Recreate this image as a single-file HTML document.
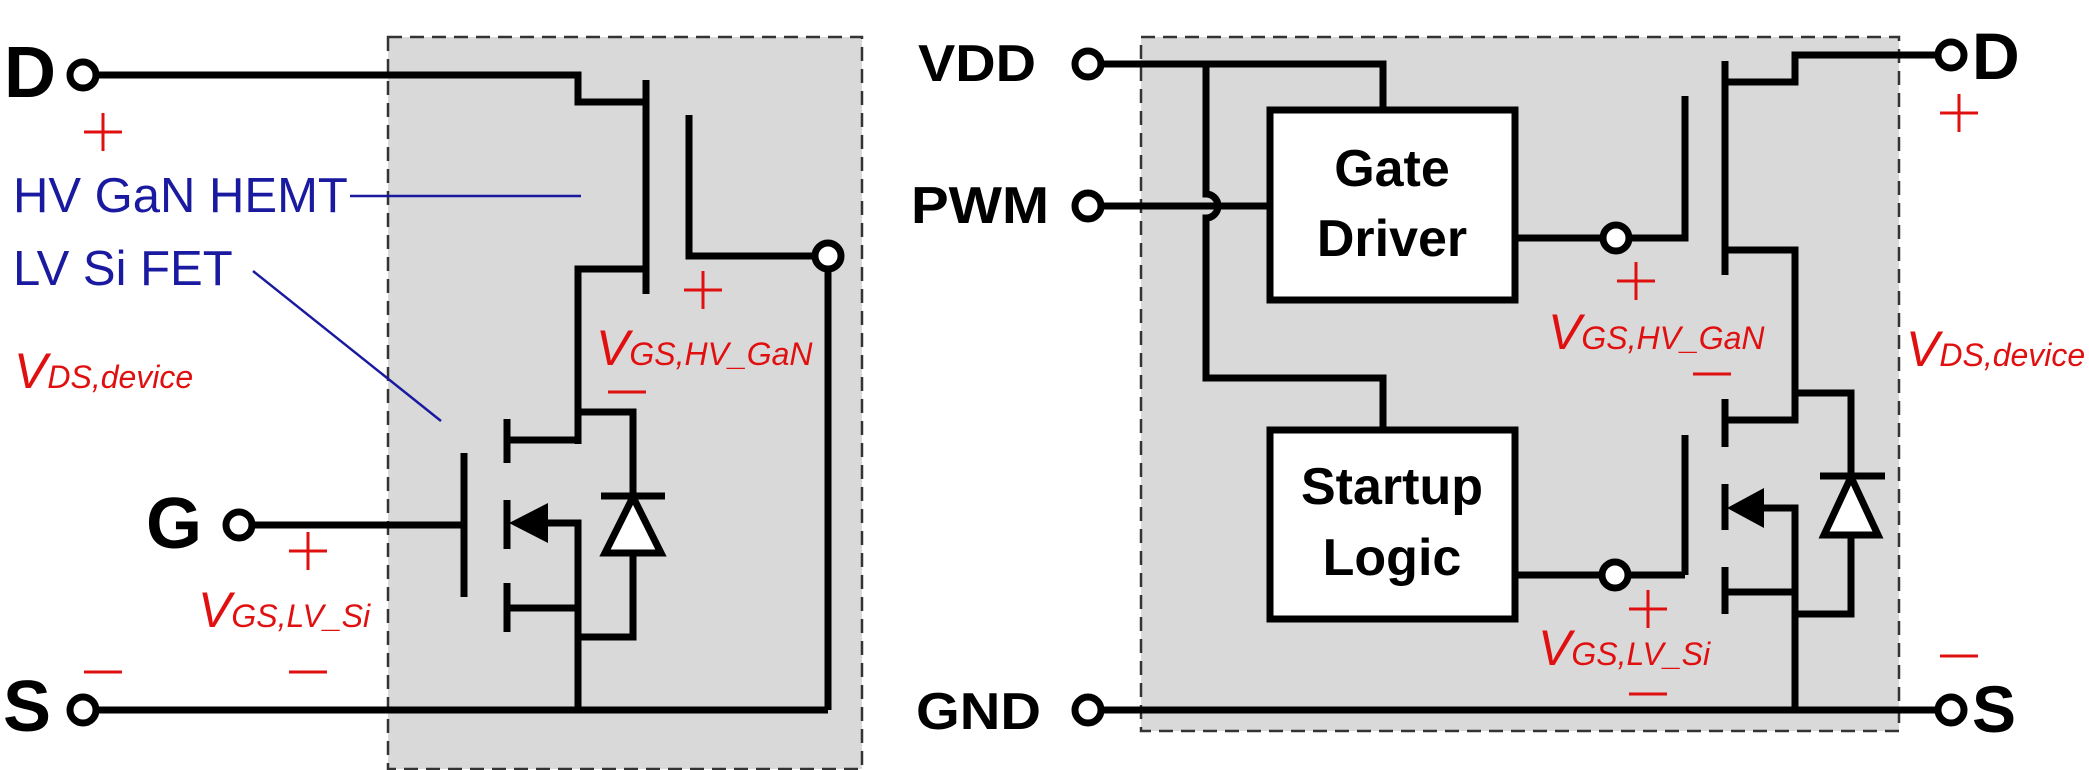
<!DOCTYPE html>
<html><head><meta charset="utf-8"><style>
html,body{margin:0;padding:0;background:#fff}
svg{display:block}
.b{fill:#000;font-family:"Liberation Sans",Arial,sans-serif;font-weight:bold}
.bl{fill:#1a1aa0;font-family:"Liberation Sans",Arial,sans-serif;font-size:49px}
.r{fill:#e01010;font-family:"Liberation Sans",Arial,sans-serif;font-style:italic}
</style></head><body>
<svg width="2089" height="770" viewBox="0 0 2089 770" xmlns="http://www.w3.org/2000/svg">
<rect x="388" y="37" width="474" height="732" fill="#d9d9d9" stroke="#333" stroke-width="2.5" stroke-dasharray="14,8"/>
<rect x="1141" y="37" width="758" height="694" fill="#d9d9d9" stroke="#333" stroke-width="2.5" stroke-dasharray="14,8"/>

<g fill="none" stroke="#000" stroke-width="7" stroke-linejoin="miter">
<polyline points="95,75 578,75 578,102 646,102"/>
<line x1="646" y1="80" x2="646" y2="294"/>
<polyline points="689,115 689,256 816,256"/>
<line x1="828" y1="268" x2="828" y2="710"/>
<polyline points="646,269 578,269 578,444"/>
<line x1="95" y1="710" x2="828" y2="710"/>
<line x1="507" y1="419" x2="507" y2="463"/>
<line x1="507" y1="500" x2="507" y2="549"/>
<line x1="507" y1="583" x2="507" y2="632"/>
<line x1="464" y1="453" x2="464" y2="597"/>
<line x1="507" y1="440" x2="578" y2="440"/>
<line x1="507" y1="608" x2="578" y2="608"/>
<polyline points="540,523 578,523 578,710"/>
<polyline points="578,412 633,412 633,496"/>
<polyline points="633,553 633,637 578,637"/>
<line x1="601" y1="496" x2="665" y2="496"/>
<line x1="251" y1="525" x2="464" y2="525"/>
<polyline points="1100,64 1383,64 1383,110"/>
<path d="M1206,64 L1206,194 A12,12 0 0 1 1206,218 L1206,378 L1383,378 L1383,430"/>
<line x1="1100" y1="206" x2="1270" y2="206"/>
<polyline points="1515,238 1604,238"/>
<polyline points="1628,238 1685,238 1685,96"/>
<line x1="1725" y1="61" x2="1725" y2="275"/>
<polyline points="1725,82 1795,82 1795,55 1939,55"/>
<polyline points="1725,250 1795,250 1795,420 1725,420"/>
<polyline points="1795,393 1851,393 1851,476"/>
<polyline points="1851,535 1851,614 1795,614"/>
<line x1="1820" y1="476" x2="1885" y2="476"/>
<line x1="1725" y1="399" x2="1725" y2="447"/>
<line x1="1725" y1="484" x2="1725" y2="530"/>
<line x1="1725" y1="567" x2="1725" y2="614"/>
<line x1="1685" y1="435" x2="1685" y2="575"/>
<line x1="1515" y1="575" x2="1603" y2="575"/>
<line x1="1627" y1="575" x2="1685" y2="575"/>
<polyline points="1758,508 1795,508 1795,710"/>
<line x1="1725" y1="592" x2="1795" y2="592"/>
<line x1="1100" y1="710" x2="1939" y2="710"/>
<rect x="1270" y="110" width="245" height="190" fill="#fff"/>
<rect x="1270" y="430" width="245" height="189" fill="#fff"/>
</g>
<polygon points="509,523 548,503 548,543" fill="#000"/>
<polygon points="1727,508 1764,488 1764,528" fill="#000"/>
<polygon points="633,497 605,553 661,553" fill="#fff" stroke="#000" stroke-width="7"/>
<polygon points="1851,477 1824,535 1878,535" fill="#fff" stroke="#000" stroke-width="7"/>
<g fill="#fff" stroke="#000" stroke-width="7">
<circle cx="83" cy="75" r="13"/><circle cx="828" cy="256" r="13"/>
<circle cx="239" cy="525" r="13"/><circle cx="83" cy="710" r="13"/>
<circle cx="1088" cy="64" r="13"/><circle cx="1088" cy="206" r="13"/><circle cx="1088" cy="710" r="13"/>
<circle cx="1616" cy="238" r="13"/><circle cx="1615" cy="575" r="13"/>
<circle cx="1951" cy="55" r="13"/><circle cx="1951" cy="710" r="13"/>
</g>
<line x1="350" y1="196" x2="581" y2="196" stroke="#1a1aa0" stroke-width="2.5"/>
<line x1="253" y1="271" x2="441" y2="421" stroke="#1a1aa0" stroke-width="2.5"/>
<text class="b" x="4" y="97" font-size="72">D</text>
<text class="b" x="146" y="548" font-size="72">G</text>
<text class="b" x="3" y="731" font-size="72">S</text>
<text class="b" x="918" y="81" font-size="52" textLength="118" lengthAdjust="spacingAndGlyphs">VDD</text>
<text class="b" x="911" y="223" font-size="52" textLength="138" lengthAdjust="spacingAndGlyphs">PWM</text>
<text class="b" x="916" y="729" font-size="52" textLength="125" lengthAdjust="spacingAndGlyphs">GND</text>
<text class="b" x="1972" y="79" font-size="66">D</text>
<text class="b" x="1972" y="732" font-size="66">S</text>
<text class="b" x="1392" y="186" font-size="52" text-anchor="middle">Gate</text>
<text class="b" x="1392" y="256" font-size="52" text-anchor="middle">Driver</text>
<text class="b" x="1392" y="504" font-size="52" text-anchor="middle">Startup</text>
<text class="b" x="1392" y="575" font-size="52" text-anchor="middle">Logic</text>
<text class="bl" x="13" y="212">HV GaN HEMT</text>
<text class="bl" x="13" y="285">LV Si FET</text>
<text class="r" x="14" y="388" font-size="50">V<tspan font-size="32">DS,device</tspan></text>
<text class="r" x="596" y="365" font-size="50">V<tspan font-size="32">GS,HV_GaN</tspan></text>
<text class="r" x="198" y="627" font-size="50">V<tspan font-size="32">GS,LV_Si</tspan></text>
<text class="r" x="1548" y="349" font-size="50">V<tspan font-size="32">GS,HV_GaN</tspan></text>
<text class="r" x="1538" y="665" font-size="50">V<tspan font-size="32">GS,LV_Si</tspan></text>
<text class="r" x="1906" y="366" font-size="50">V<tspan font-size="32">DS,device</tspan></text>
<g stroke="#e01010" stroke-width="3">
<path d="M84,132h38M103,113v38"/>
<path d="M684,290h38M703,271v38"/>
<path d="M289,551h38M308,532v38"/>
<path d="M1617,281h38M1636,262v38"/>
<path d="M1629,609h38M1648,590v38"/>
<path d="M1940,113h38M1959,94v38"/>
<path d="M608,392h38"/><path d="M289,672h38"/><path d="M84,672h38"/>
<path d="M1693,374h38"/><path d="M1629,694h38"/><path d="M1940,656h38"/>
</g>
</svg>
</body></html>
